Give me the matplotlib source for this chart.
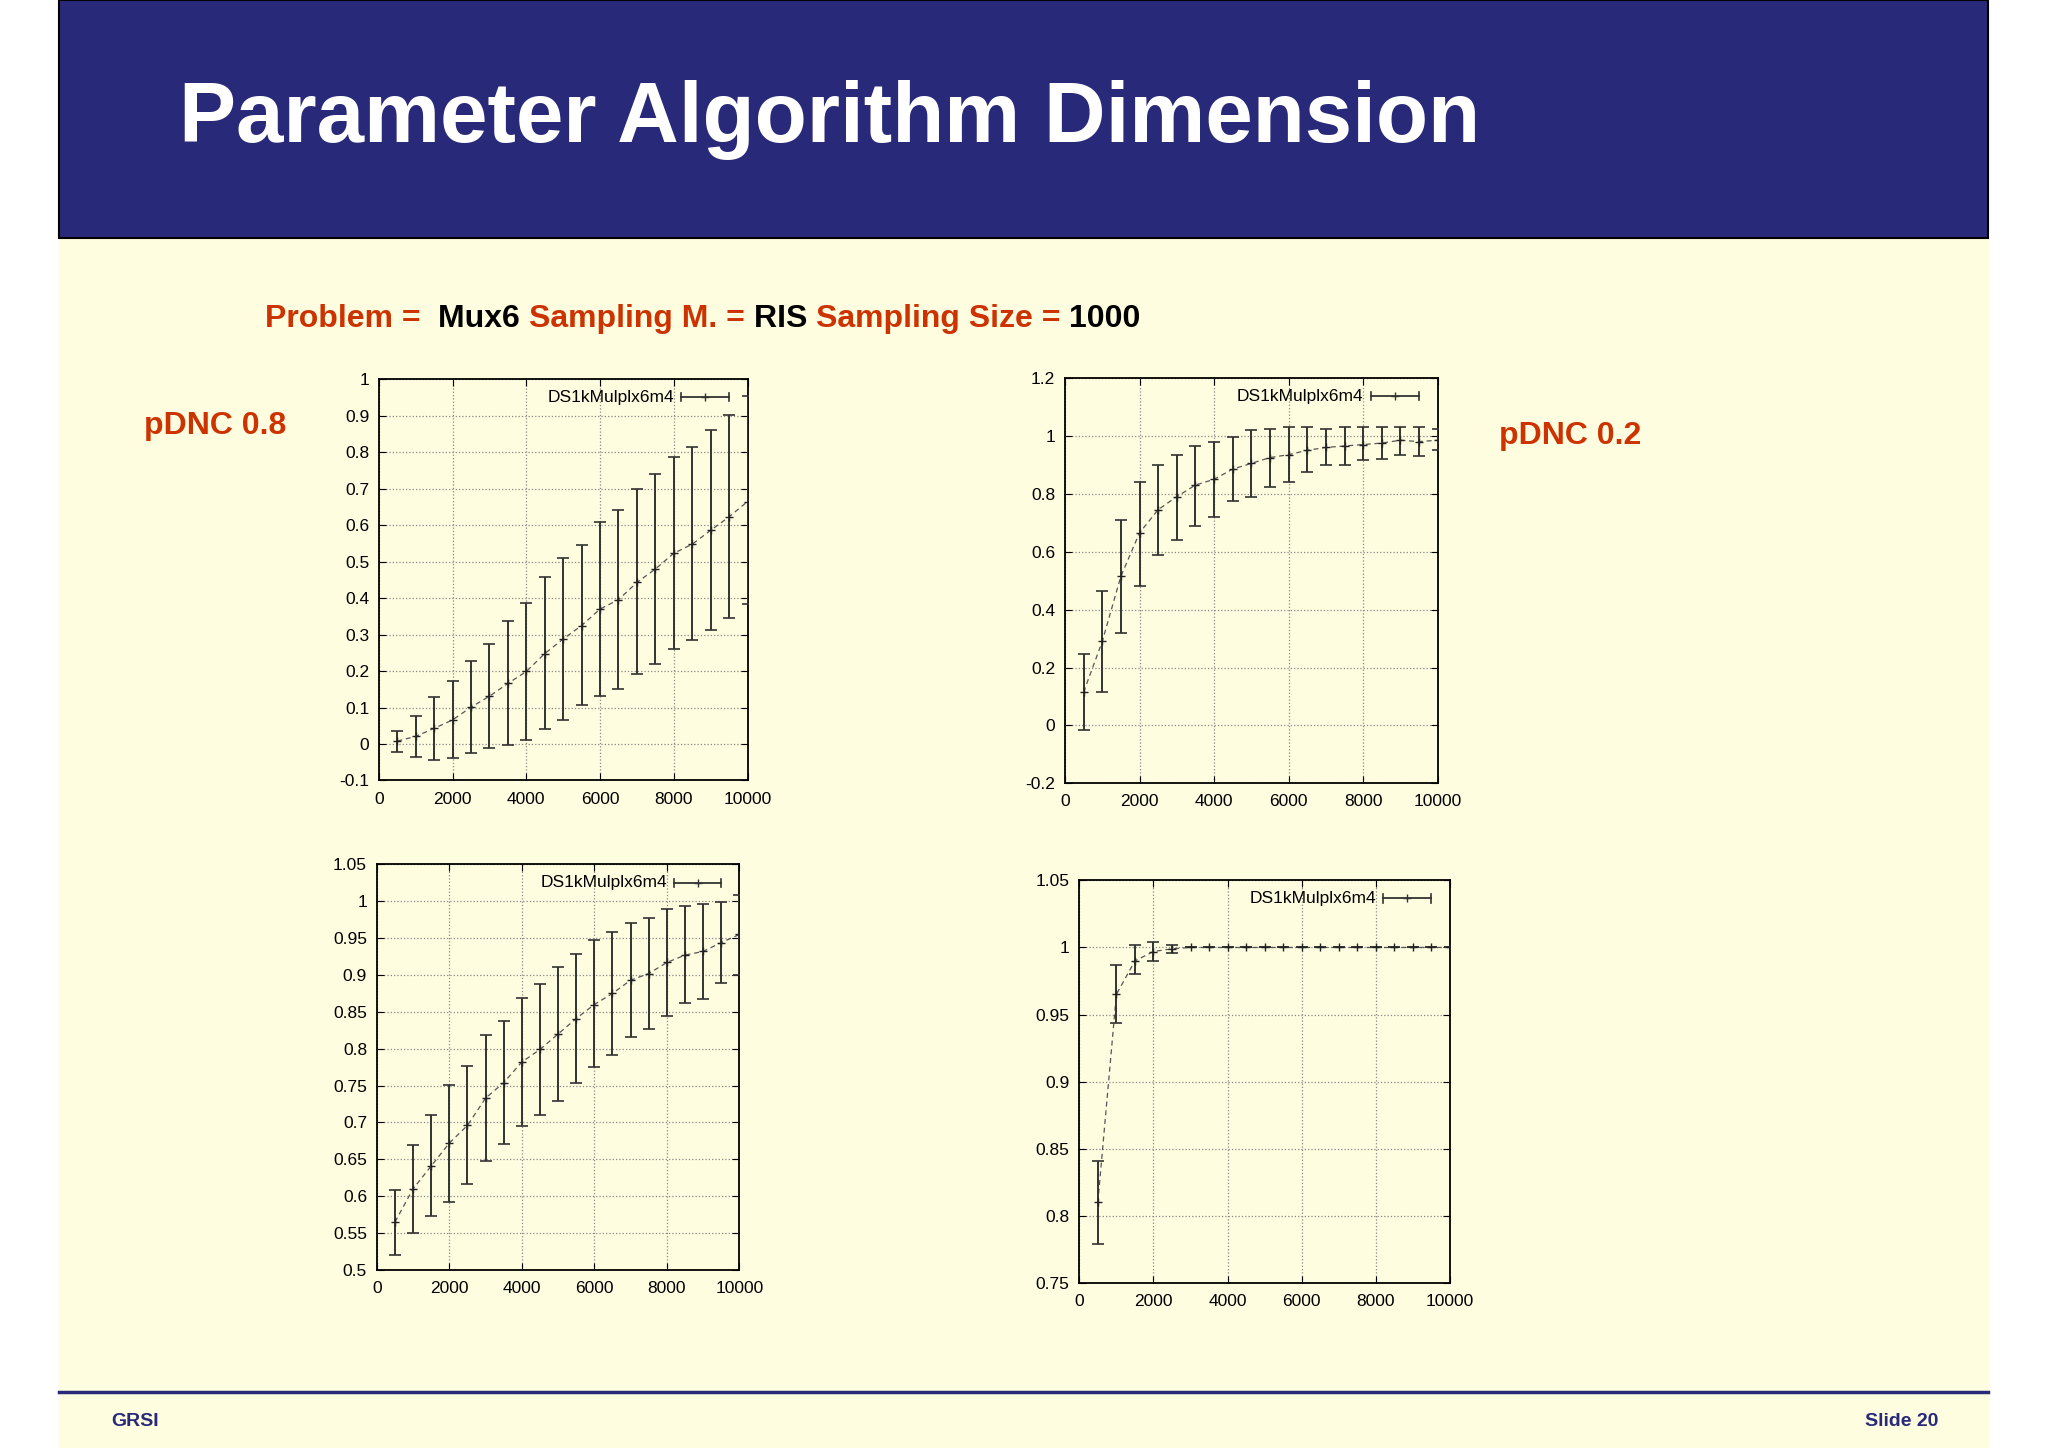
import matplotlib
matplotlib.use("Agg")
import matplotlib.pyplot as plt
import numpy as np

plt.rcParams['font.family'] = ['Liberation Sans', 'DejaVu Sans']

x = list(range(500, 10001, 500))

tl_mean = [0.008,0.021,0.043,0.066,0.101,0.131,0.166,0.199,0.248,0.288,0.325,0.370,0.396,0.443,0.480,0.523,0.548,0.586,0.623,0.665]
tl_lo = [-0.022,-0.035,-0.043,-0.039,-0.024,-0.010,-0.003,0.011,0.040,0.067,0.107,0.131,0.152,0.191,0.220,0.260,0.284,0.312,0.345,0.383]
tl_hi = [0.037,0.078,0.128,0.172,0.228,0.273,0.336,0.388,0.458,0.509,0.547,0.610,0.641,0.698,0.740,0.786,0.814,0.861,0.901,0.955]

tr_mean = [0.115,0.29,0.515,0.665,0.745,0.79,0.83,0.85,0.885,0.905,0.925,0.935,0.95,0.96,0.965,0.97,0.975,0.985,0.98,0.985]
tr_lo = [-0.015,0.115,0.32,0.48,0.59,0.64,0.69,0.72,0.775,0.79,0.825,0.84,0.875,0.9,0.9,0.915,0.92,0.935,0.93,0.95]
tr_hi = [0.245,0.465,0.71,0.84,0.9,0.935,0.965,0.98,0.995,1.02,1.025,1.03,1.03,1.025,1.03,1.03,1.03,1.03,1.03,1.025]

bl_mean = [0.565,0.61,0.641,0.672,0.696,0.733,0.754,0.782,0.799,0.820,0.841,0.860,0.875,0.893,0.902,0.917,0.927,0.932,0.944,0.955]
bl_lo = [0.52,0.55,0.573,0.592,0.616,0.648,0.671,0.695,0.710,0.729,0.754,0.775,0.792,0.816,0.827,0.845,0.862,0.868,0.889,0.90]
bl_hi = [0.609,0.67,0.71,0.751,0.776,0.818,0.837,0.869,0.888,0.911,0.929,0.947,0.959,0.970,0.978,0.989,0.993,0.996,0.999,1.008]

br_mean = [0.81,0.965,0.99,0.997,0.999] + [1.0]*15
br_lo = [0.779,0.944,0.98,0.99,0.996] + [1.0]*15
br_hi = [0.841,0.987,1.002,1.004,1.002] + [1.0]*15

series_label = "DS1kMulplx6m4"

BG = '#FEFDE0'
NAVY = '#29297A'
RED = '#CC3300'

fig = plt.figure(figsize=(20.48, 14.48), dpi=100)
fig.patch.set_facecolor('white')
fig.patches.append(plt.Rectangle((59/2048, 0), (1988-59)/2048, 1, transform=fig.transFigure, color=BG, zorder=-10))
fig.patches.append(plt.Rectangle((59/2048, 1-238/1448), (1988-59)/2048, 238/1448, transform=fig.transFigure,
                                 facecolor=NAVY, edgecolor='black', lw=1.5, zorder=-9))
fig.lines.append(plt.Line2D([59/2048, 1988/2048], [1-1392/1448]*2, transform=fig.transFigure, color=NAVY, lw=2.5))

fig.text(179/2048, 1-120/1448, "Parameter Algorithm Dimension", color='white', fontsize=61.5,
         fontweight='bold', va='center', ha='left')
fig.text(111/2048, 1-1421/1448, "GRSI", color=NAVY, fontsize=14, fontweight='bold', va='center')
fig.text(1938/2048, 1-1421/1448, "Slide 20", color=NAVY, fontsize=14, fontweight='bold', va='center', ha='right')
fig.text(144/2048, 1-426/1448, "pDNC 0.8", color=RED, fontsize=23, fontweight='bold', va='center')
fig.text(1499/2048, 1-436/1448, "pDNC 0.2", color=RED, fontsize=23, fontweight='bold', va='center')

parts = [("Problem =  ", RED), ("Mux6 ", 'black'), ("Sampling M. = ", RED), ("RIS ", 'black'),
         ("Sampling Size = ", RED), ("1000", 'black')]
renderer = fig.canvas.get_renderer()
xpos = 265
for s, c in parts:
    t = fig.text(xpos/2048, 1-319/1448, s, color=c, fontsize=23, fontweight='bold', va='center', ha='left')
    bb = t.get_window_extent(renderer=renderer)
    xpos += bb.width

def panel(rect, mean, lo, hi, ylim, yticks, yfmt):
    ax = fig.add_axes(rect)
    ax.set_facecolor(BG)
    m = np.array(mean); l = np.array(lo); h = np.array(hi)
    ax.errorbar(x, m, yerr=[m - l, h - m], fmt='+', color='#222222', ecolor='#333333', elinewidth=1.4,
                capsize=4, capthick=1.2, markersize=6, zorder=3)
    ax.plot(x, m, ls=(0, (4, 3)), color='#555555', lw=0.9, zorder=2)
    ax.set_xlim(0, 10000)
    ax.set_ylim(*ylim)
    ax.set_xticks(range(0, 10001, 2000))
    ax.set_yticks(yticks)
    ax.set_yticklabels([yfmt(v) for v in yticks])
    ax.grid(True, ls=':', color='#888888', lw=0.9)
    ax.tick_params(direction='in', top=True, right=True, labelsize=12.5, length=5)
    ax.tick_params(axis='x', pad=8)
    ax.tick_params(axis='y', pad=7)
    for sp in ax.spines.values():
        sp.set_linewidth(1.3)
    # gnuplot-style key: label + horizontal error bar sample
    ax.text(0.80, 0.955, series_label, transform=ax.transAxes, ha='right', va='center', fontsize=12.5)
    ax.plot([0.82, 0.95], [0.955, 0.955], transform=ax.transAxes, color='#333333', lw=1.3)
    ax.plot([0.82, 0.82], [0.945, 0.965], transform=ax.transAxes, color='#333333', lw=1.2)
    ax.plot([0.95, 0.95], [0.945, 0.965], transform=ax.transAxes, color='#333333', lw=1.2)
    ax.plot([0.885], [0.955], '+', transform=ax.transAxes, color='#333333', ms=6)
    return ax

def fmt(v):
    s = f"{v:.2f}".rstrip('0').rstrip('.')
    return "0" if s in ("-0", "0") else s

panel([0.185, 0.461, 0.180, 0.277], tl_mean, tl_lo, tl_hi, (-0.1, 1.0), np.round(np.arange(-0.1, 1.01, 0.1), 2), fmt)
panel([0.520, 0.459, 0.182, 0.280], tr_mean, tr_lo, tr_hi, (-0.2, 1.2), np.round(np.arange(-0.2, 1.21, 0.2), 2), fmt)
panel([0.184, 0.123, 0.177, 0.280], bl_mean, bl_lo, bl_hi, (0.5, 1.05), np.round(np.arange(0.5, 1.051, 0.05), 2), fmt)
panel([0.527, 0.114, 0.181, 0.278], br_mean, br_lo, br_hi, (0.75, 1.05), np.round(np.arange(0.75, 1.051, 0.05), 2), fmt)

fig.savefig("out.png", dpi=100, facecolor=fig.get_facecolor())
